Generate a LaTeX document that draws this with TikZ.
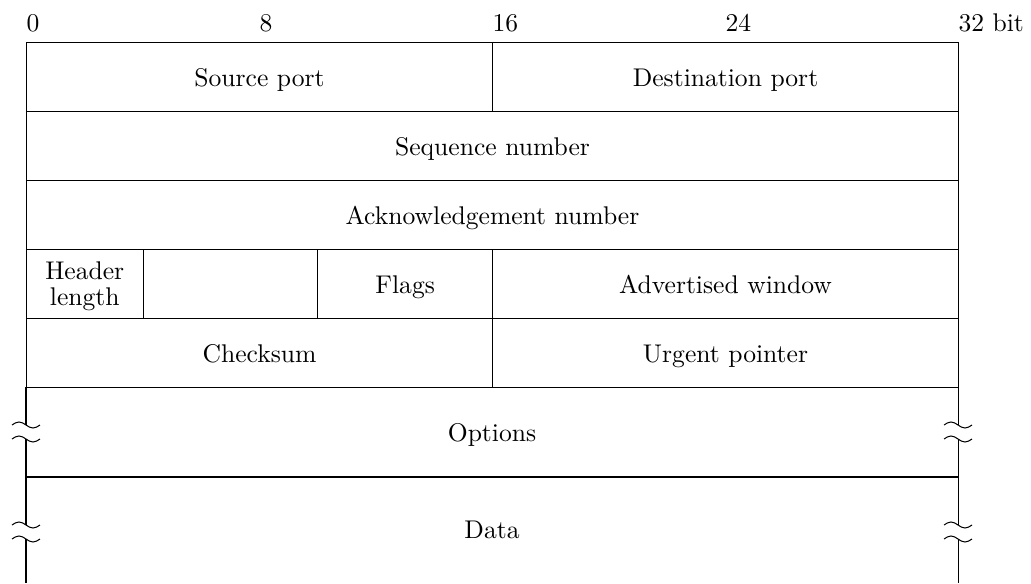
\documentclass[tikz,border=0pt]{standalone}
% one drawing unit = one pixel of the final image
\def\px{0.3908pt}
\def\bitw{29.125}
\tikzset{
  field/.style={draw, inner sep=0pt, anchor=north west,
    minimum height={69*\px}, text height=7.8pt, text depth=0pt},
  bits/.style={minimum width={#1*\bitw*\px}},
  bitlabel/.style={anchor=base west, inner sep=0pt},
  cut/.style={line width=0.4pt}
}
\begin{document}
\begin{tikzpicture}[x=\px, y=-\px]
\useasboundingbox (0,0) rectangle (1031,583);

% bit offsets along the top
\foreach \b/\t in {0/0, 8/8, 16/16, 24/24, 32/32 bit}
  \node[bitlabel] (lbl\b) at ({26+\b*\bitw}, 32) {\t};

% fixed header fields
\node[field, bits=16] (src)   at (26,42)                {Source port};
\node[field, bits=16] (dst)   at ({26+16*\bitw},42)     {Destination port};
\node[field, bits=32] (seq)   at (26,111)               {Sequence number};
\node[field, bits=32] (ack)   at (26,180)               {Acknowledgement number};
\node[field, bits=4]  (hlen)  at (26,249)               {};
\node[field, bits=6]  (rsv)   at ({26+4*\bitw},249)     {};
\node[field, bits=6]  (flags) at ({26+10*\bitw},249)    {Flags};
\node[field, bits=16] (win)   at ({26+16*\bitw},249)    {Advertised window};
\node[field, bits=16] (csum)  at (26,318)               {Checksum};
\node[field, bits=16] (urg)   at ({26+16*\bitw},318)    {Urgent pointer};
\node[align=center, inner sep=0pt] (hlentext) at ([yshift=-0.95pt]hlen.center)
  {Header\\[-1.8pt]length};

% variable-length parts
\node[anchor=base, inner sep=0pt] (opt)  at (492,441) {Options};
\node[anchor=base, inner sep=0pt] (data) at (492,538) {Data};

% side walls, interrupted at the cut marks
\foreach \x in {26,958} {
  \draw (\x,387) -- (\x,425);
  \draw (\x,439) -- (\x,525);
  \draw (\x,539) -- (\x,583);
}
\draw (26,477) -- (958,477);

% cut marks
\foreach \x in {26,958}
  \foreach \y in {425,439,525,539}
    \draw[cut] (\x-14,\y) sin (\x-7,\y-3) cos (\x,\y) sin (\x+7,\y+3) cos (\x+14,\y);
\end{tikzpicture}
\end{document}
